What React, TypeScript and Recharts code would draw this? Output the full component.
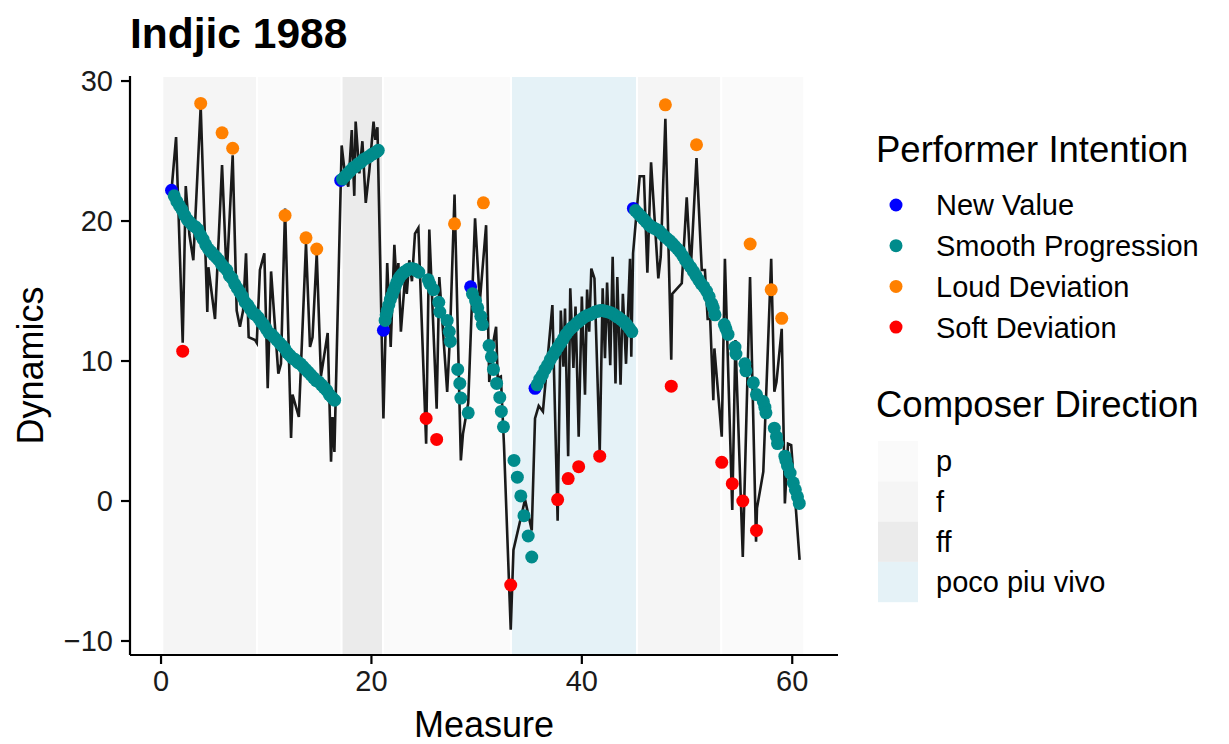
import { ComposedChart, Line, Scatter, XAxis, YAxis, ReferenceArea } from 'recharts';

const FONT = '"Liberation Sans", Arial, Helvetica, sans-serif';

// measured dynamics, [measure, dynamics]
const performance: [number, number][] = [
  [1.0, 22.2], [1.43, 26.0], [2.06, 11.3], [2.35, 22.5], [2.7, 19.0], [3.07, 17.2], [3.77, 28.2],
  [4.4, 13.5], [4.5, 16.7], [5.13, 13.0], [5.8, 24.0], [6.24, 16.0], [6.81, 24.7], [7.19, 13.6],
  [7.5, 12.45], [7.8, 13.6], [8.08, 17.7], [8.33, 11.7], [8.94, 11.5], [9.1, 11.3], [9.4, 16.5],
  [9.82, 17.7], [10.14, 8.05], [10.46, 16.4], [11.15, 9.1], [11.4, 9.8], [11.79, 20.9], [12.36, 4.5],
  [12.5, 7.6], [13.1, 6.0], [13.78, 18.4], [14.16, 11.0], [14.4, 11.7], [14.8, 17.7], [15.2, 8.9],
  [15.84, 12.0], [16.16, 2.8], [16.3, 6.0], [16.48, 3.5], [17.17, 25.4], [17.5, 23.2], [17.8, 22.45],
  [18.13, 26.5], [18.37, 21.8], [18.5, 27.1], [18.85, 23.4], [19.14, 25.7], [19.46, 21.3], [19.8, 23.6],
  [20.2, 27.1], [20.37, 25.8], [20.57, 26.7], [21.14, 5.9], [21.5, 17.0], [21.83, 11.0], [22.18, 18.3],
  [22.4, 15.3], [22.56, 17.0], [22.8, 12.1], [23.2, 16.0], [23.36, 14.8], [23.6, 17.2], [23.85, 15.7],
  [24.14, 19.1], [24.46, 19.5], [25.2, 4.1], [25.5, 19.4], [26.2, 6.6], [26.45, 16.0], [27.2, 7.8],
  [27.46, 11.7], [27.9, 21.9], [28.5, 2.9], [28.7, 4.8], [29.2, 7.0], [29.85, 20.2], [30.3, 14.2],
  [30.9, 19.7], [31.2, 8.5], [31.5, 11.0], [31.85, 12.45], [32.0, 8.8], [32.3, 8.9], [32.6, 4.0],
  [33.24, -9.2], [33.5, -3.5], [34.6, 0.1], [35.24, -2.1], [35.55, 5.9], [35.9, 6.8], [36.3, 6.4],
  [37.2, 14.0], [37.7, -1.4], [38.0, 13.6], [38.25, 9.6], [38.4, 13.75], [38.7, 3.2], [38.9, 15.2],
  [39.2, 9.5], [39.4, 13.9], [39.7, 4.6], [40.0, 14.6], [40.3, 7.6], [40.5, 15.1], [40.7, 12.1],
  [40.9, 16.6], [41.2, 15.9], [41.7, 3.5], [41.98, 15.2], [42.2, 10.2], [42.4, 15.6], [42.7, 9.7],
  [42.93, 17.45], [43.2, 8.4], [43.37, 16.0], [43.68, 8.3], [43.9, 14.8], [44.2, 9.8], [44.58, 17.3],
  [44.7, 10.3], [44.87, 17.7], [45.5, 23.2], [45.9, 23.2], [46.23, 16.3], [46.58, 24.2], [47.27, 15.9],
  [47.5, 17.45], [47.94, 27.3], [48.5, 10.1], [48.6, 14.8], [49.5, 15.55], [49.97, 21.7], [50.35, 16.5],
  [50.9, 24.5], [51.4, 16.5], [51.7, 16.5], [51.96, 13.0], [52.2, 13.0], [52.5, 7.2], [52.6, 10.9],
  [53.3, 4.6], [53.6, 17.3], [54.3, -0.64], [54.6, 11.5], [55.3, -4.0], [55.99, 16.0], [56.56, -2.9],
  [56.65, -0.5], [57.25, 2.1], [58.0, 17.3], [58.3, 7.8], [58.5, 8.5], [59.0, 12.3], [59.3, -0.17],
  [59.6, 4.1], [59.9, 4.0], [60.7, -4.2],
];

const newValue: [number, number][] = [
  [1.0, 22.2], [17.08, 22.9], [21.14, 12.2], [29.43, 15.3], [35.55, 8.05], [44.9, 20.9],
];

const smooth: [number, number][] = [
  [1.25, 21.8], [1.5, 21.4], [1.75, 21.1], [2.0, 20.8], [2.25, 20.4], [2.5, 20.1], [2.75, 19.9],
  [3.0, 19.7], [3.25, 19.6], [3.5, 19.4], [3.75, 19.0], [4.0, 18.7], [4.25, 18.3], [4.5, 18.0],
  [4.75, 17.8], [5.0, 17.6], [5.25, 17.4], [5.5, 17.2], [5.75, 16.9], [6.0, 16.7], [6.25, 16.5],
  [6.5, 16.1], [6.75, 15.9], [7.0, 15.5], [7.25, 15.2], [7.5, 14.9], [7.75, 14.6], [8.0, 14.2],
  [8.25, 14.0], [8.5, 13.7], [8.75, 13.4], [9.0, 13.3], [9.25, 13.1], [9.5, 12.8], [9.75, 12.6],
  [10.0, 12.3], [10.25, 12.0], [10.5, 11.9], [10.75, 11.7], [11.0, 11.5], [11.25, 11.3], [11.5, 11.1],
  [11.75, 10.9], [12.0, 10.6], [12.25, 10.4], [12.5, 10.2], [12.75, 10.1], [13.0, 9.9], [13.25, 9.8],
  [13.5, 9.6], [13.75, 9.4], [14.0, 9.2], [14.25, 9.0], [14.5, 8.8], [14.75, 8.6], [15.0, 8.5],
  [15.25, 8.3], [15.5, 8.1], [15.75, 7.9], [16.0, 7.6], [16.25, 7.4], [16.5, 7.2],
  [17.25, 23.0], [17.5, 23.2], [17.75, 23.4], [18.0, 23.6], [18.25, 23.8], [18.5, 23.9], [18.75, 24.1],
  [19.0, 24.2], [19.25, 24.4], [19.5, 24.5], [19.75, 24.6], [20.0, 24.75], [20.25, 24.85], [20.5, 24.95],
  [20.65, 25.05],
  [21.3, 12.9], [21.4, 13.3], [21.5, 13.6], [21.65, 14.0], [21.8, 14.4], [21.95, 14.7], [22.1, 15.0],
  [22.25, 15.3], [22.4, 15.6], [22.55, 15.8], [22.7, 16.0], [22.9, 16.2], [23.1, 16.35], [23.3, 16.45],
  [23.5, 16.55], [23.7, 16.6], [23.9, 16.6], [24.1, 16.55], [24.3, 16.45], [24.5, 16.35], [25.4, 15.8],
  [25.55, 15.5], [25.9, 15.1], [26.4, 14.2], [26.5, 13.5], [27.2, 12.9], [27.4, 12.1], [27.5, 11.4],
  [28.2, 9.4], [28.4, 8.4], [28.5, 7.35], [29.2, 6.3],
  [29.6, 14.8], [29.9, 14.3], [30.1, 13.8], [30.4, 13.2], [30.55, 12.6], [31.18, 11.1], [31.4, 10.3],
  [31.6, 9.4], [31.9, 8.4], [32.2, 7.4], [32.35, 6.4], [32.55, 5.3], [33.55, 2.9], [33.87, 1.7],
  [34.2, 0.36], [34.5, -1.05], [34.9, -2.5], [35.24, -4.0],
  [35.75, 8.3], [36.0, 8.7], [36.25, 9.0], [36.5, 9.4], [36.75, 9.7], [37.0, 10.1], [37.25, 10.4],
  [37.5, 10.7], [37.75, 11.0], [38.0, 11.3], [38.25, 11.6], [38.5, 11.9], [38.75, 12.15], [39.0, 12.35],
  [39.25, 12.5], [39.5, 12.7], [39.75, 12.85], [40.0, 13.0], [40.25, 13.15], [40.5, 13.25], [40.75, 13.3],
  [41.0, 13.4], [41.25, 13.5], [41.5, 13.55], [41.75, 13.6], [42.0, 13.6], [42.25, 13.55], [42.5, 13.5],
  [42.75, 13.45], [43.0, 13.35], [43.25, 13.2], [43.5, 13.1], [43.75, 12.95], [44.0, 12.8], [44.25, 12.6],
  [44.5, 12.35], [44.75, 12.1],
  [45.1, 20.75], [45.35, 20.55], [45.6, 20.35], [45.85, 20.15], [46.1, 19.95], [46.35, 19.75], [46.6, 19.6],
  [46.85, 19.5], [47.1, 19.4], [47.35, 19.3], [47.6, 19.1], [47.85, 18.9], [48.1, 18.75], [48.35, 18.6],
  [48.6, 18.4], [48.85, 18.2], [49.1, 18.0], [49.35, 17.8], [49.6, 17.5], [49.85, 17.2], [50.1, 16.95],
  [50.35, 16.7], [50.6, 16.4], [50.85, 16.1], [51.1, 15.8], [51.35, 15.5], [51.6, 15.3], [51.85, 15.0],
  [52.1, 14.6], [52.35, 14.1], [52.5, 13.8], [52.66, 13.3], [53.55, 12.6], [53.7, 12.3], [53.9, 11.9],
  [54.56, 11.0], [54.65, 10.5], [55.5, 9.8], [55.6, 9.3], [56.3, 8.45], [56.6, 7.6], [57.25, 7.1],
  [57.4, 6.7], [57.5, 6.3], [58.3, 5.2], [58.5, 4.6], [58.6, 4.1], [59.3, 3.2], [59.4, 2.9],
  [59.55, 2.5], [59.8, 2.0], [60.1, 1.3], [60.3, 0.8], [60.5, 0.3], [60.67, -0.17],
];

const loud: [number, number][] = [
  [3.77, 28.4], [5.8, 26.3], [6.81, 25.2], [11.79, 20.4], [13.78, 18.8], [14.8, 18.0], [27.9, 19.8],
  [30.64, 21.3], [47.94, 28.3], [50.9, 25.45], [56.0, 18.36], [58.0, 15.1], [59.0, 13.05],
];

const soft: [number, number][] = [
  [2.06, 10.7], [25.2, 5.9], [26.2, 4.4], [33.24, -6.0], [37.7, 0.1], [38.7, 1.6], [39.7, 2.45],
  [41.7, 3.2], [48.5, 8.2], [53.3, 2.76], [54.3, 1.24], [55.3, 0.0], [56.6, -2.1],
];

// composer markings: [from, to, direction]
const sections: [number, number, string][] = [
  [0.12, 9.13, 'f'], [9.13, 17.16, 'p'], [17.16, 21.1, 'ff'], [21.1, 33.27, 'p'],
  [33.27, 45.25, 'poco piu vivo'], [45.25, 53.26, 'f'], [53.26, 61.15, 'p'],
];

const directionFill: Record<string, string> = {
  p: '#FAFAFA',
  f: '#F5F5F5',
  ff: '#EBEBEB',
  'poco piu vivo': '#E5F2F7',
};

const intentions = [
  { name: 'New Value', color: '#0000FF', data: newValue },
  { name: 'Smooth Progression', color: '#008B8B', data: smooth },
  { name: 'Loud Deviation', color: '#FF8000', data: loud },
  { name: 'Soft Deviation', color: '#FF0000', data: soft },
];

const xTicks = [0, 20, 40, 60];
const yTicks = [-10, 0, 10, 20, 30];

const toPoints = (pairs: [number, number][]) => pairs.map(([m, v]) => ({ m, v }));

const fmt = (v: number) => (v < 0 ? `\u2212${Math.abs(v)}` : `${v}`);

// two-part legend drawn next to the panel
function LegendBox() {
  return (
    <g fontFamily={FONT} fill="#000">
      <text x={876} y={162} fontSize={36.5}>Performer Intention</text>
      {intentions.map((it, i) => (
        <g key={it.name}>
          <circle cx={896} cy={205 + i * 40.7} r={6.5} fill={it.color} />
          <text x={936} y={205 + i * 40.7 + 10.4} fontSize={29}>{it.name}</text>
        </g>
      ))}
      <text x={876} y={417} fontSize={36.5}>Composer Direction</text>
      {Object.keys(directionFill).map((d, i) => (
        <g key={d}>
          <rect x={878} y={441 + i * 40.3} width={40} height={40.3} fill={directionFill[d]} />
          <text x={936} y={461 + i * 40.3 + 10.4} fontSize={29}>{d}</text>
        </g>
      ))}
    </g>
  );
}

export default function App() {
  const tickStyle = { fontSize: 29, fontFamily: FONT, fill: '#1A1A1A' };
  return (
    <div style={{ position: 'absolute', left: 0, top: 0, width: 1229, height: 744, background: '#fff' }}>
      <ComposedChart
        width={1229}
        height={744}
        margin={{ top: 76, right: 391, bottom: 29, left: 70 }}
      >
        {sections.map(([a, b, d], i) => (
          <ReferenceArea
            key={i}
            x1={a}
            x2={b}
            fill={directionFill[d]}
            fillOpacity={1}
            stroke="#FFFFFF"
            strokeWidth={2}
          />
        ))}
        <XAxis
          type="number"
          dataKey="m"
          domain={[-2.95, 64.35]}
          ticks={xTicks}
          allowDataOverflow
          height={60}
          tickSize={9}
          tickMargin={6}
          tick={tickStyle}
          axisLine={{ stroke: '#000', strokeWidth: 2.2 }}
          tickLine={{ stroke: '#000', strokeWidth: 2.2 }}
        />
        <YAxis
          type="number"
          dataKey="v"
          domain={[-11.0, 30.36]}
          ticks={yTicks}
          allowDataOverflow
          width={60}
          tickSize={9}
          tickMargin={8}
          tickFormatter={fmt}
          tick={tickStyle}
          axisLine={{ stroke: '#000', strokeWidth: 2.2 }}
          tickLine={{ stroke: '#000', strokeWidth: 2.2 }}
        />
        <Line
          data={toPoints(performance)}
          dataKey="v"
          type="linear"
          stroke="#1A1A1A"
          strokeWidth={2.6}
          dot={false}
          activeDot={false}
          isAnimationActive={false}
        />
        {intentions.map((it) => (
          <Scatter
            key={it.name}
            name={it.name}
            data={toPoints(it.data)}
            dataKey="v"
            fill={it.color}
            isAnimationActive={false}
            shape={(p: any) => <circle cx={p.cx} cy={p.cy} r={6.5} fill={it.color} />}
          />
        ))}
      </ComposedChart>
      <svg
        width={1229}
        height={744}
        style={{ position: 'absolute', left: 0, top: 0, pointerEvents: 'none' }}
        fontFamily={FONT}
      >
        <text x={130} y={48} fontSize={42.5} fontWeight="bold" fill="#000">Indjic 1988</text>
        <text x={484} y={737} fontSize={36} textAnchor="middle" fill="#000">Measure</text>
        <text x={43} y={365.5} fontSize={36} textAnchor="middle" fill="#000" transform="rotate(-90 43 365.5)">
          Dynamics
        </text>
        <LegendBox />
      </svg>
    </div>
  );
}
